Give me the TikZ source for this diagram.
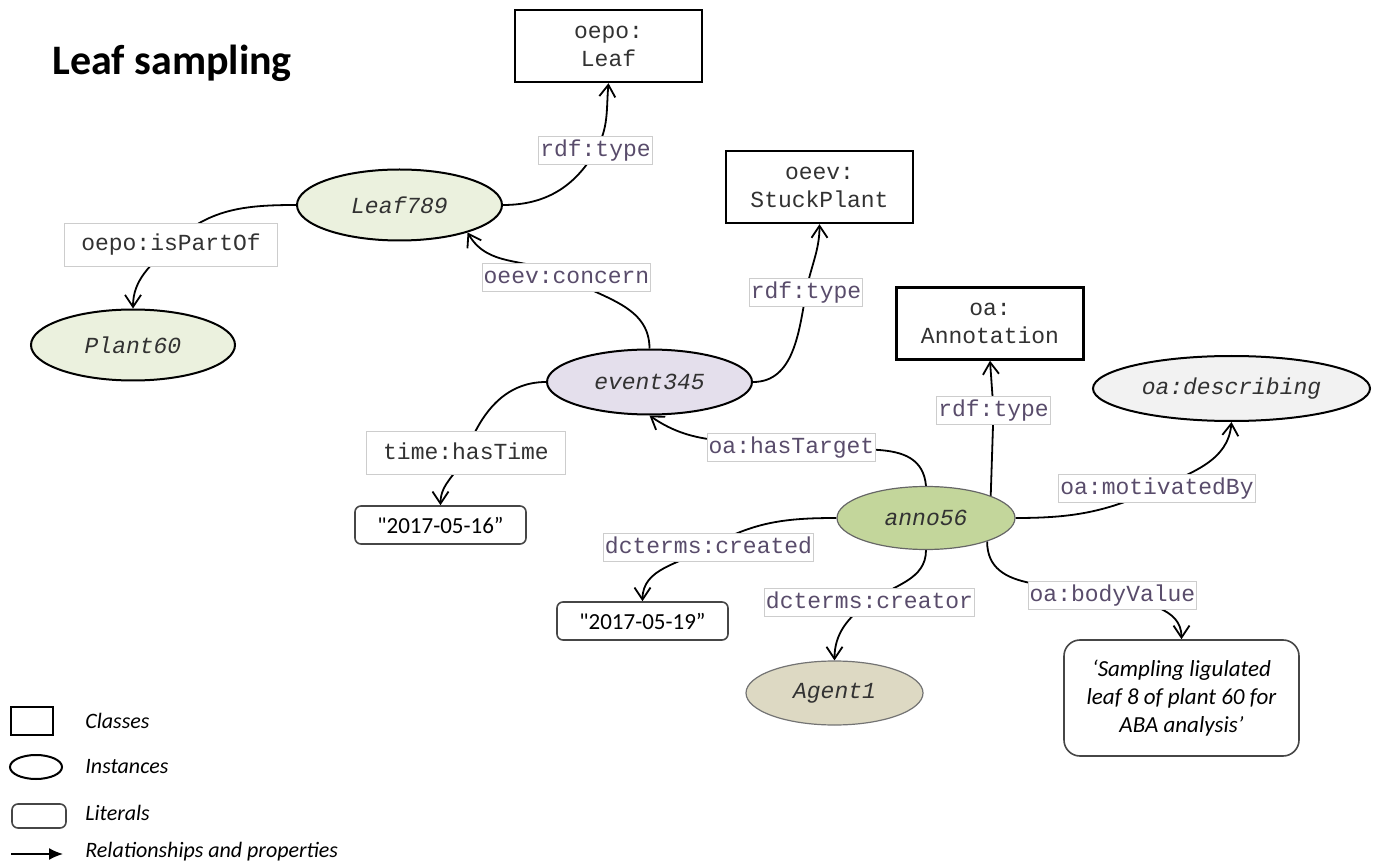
\documentclass[tikz,border=0pt]{standalone}
\usepackage{fontspec}
\setmainfont{Carlito}
\setmonofont{Liberation Mono}
\newfontfamily\litq{Carlito}
\usetikzlibrary{shapes.geometric,arrows.meta,backgrounds}

\definecolor{leafc}{HTML}{EBF1DE}
\definecolor{eventc}{HTML}{E4DFEC}
\definecolor{annoc}{HTML}{C3D69B}
\definecolor{agentc}{HTML}{DDD9C3}
\definecolor{descrc}{HTML}{F2F2F2}
\definecolor{proptext}{RGB}{89,76,107}
\definecolor{propline}{RGB}{205,205,205}
\definecolor{txtdark}{RGB}{50,50,50}
\definecolor{litline}{RGB}{70,70,70}

\newcommand{\monofnt}{\ttfamily\fontsize{11.5}{14}\selectfont}
\newcommand{\monoifnt}{\ttfamily\itshape\fontsize{11.5}{14}\selectfont}
\newcommand{\litfnt}{\litq\fontsize{11.5}{14}\selectfont}
\newcommand{\titlefnt}{\bfseries\fontsize{21}{25}\selectfont}
\newcommand{\legfnt}{\itshape\fontsize{11}{13}\selectfont}

\tikzset{
  cls/.style={draw, line width=1.2pt, fill=white, minimum width=93.5pt, minimum height=36pt,
    inner sep=0pt, align=center, font=\monofnt, text=txtdark},
  inst/.style={ellipse, draw, line width=1pt, inner sep=0pt, font=\monoifnt, text=txtdark},
  lit/.style={draw=litline, line width=0.8pt, rounded corners=3pt, fill=white,
    minimum width=85.5pt, minimum height=19pt, inner sep=0pt, font=\litfnt},
  prop/.style={draw=propline, line width=0.5pt, fill=white, text=proptext, font=\monofnt,
    inner xsep=0.8pt, inner ysep=1.5pt, text height=8.5pt, text depth=2.5pt},
  propd/.style={prop, text=txtdark, inner xsep=8.5pt, inner ysep=5.25pt},
  rel/.style={line width=0.9pt, -{Straight Barb[length=6pt,width=8pt]}},
  legtxt/.style={anchor=base west, inner sep=0pt, font=\legfnt},
}

\begin{document}
\begin{tikzpicture}[x=.5pt,y=.5pt]
\useasboundingbox (0,0) rectangle (1377,-861);
\draw (52,-75) node[anchor=base west, inner sep=0pt, font=\titlefnt] (t) {Leaf sampling};
% classes
\draw (608.5,-46) node[cls] (v1) {oepo:\\Leaf};
\draw (819.5,-187) node[cls] (v4) {oeev:\\StuckPlant};
\draw (990,-323.5) node[cls] (v6) {oa:\\Annotation};
% instances
\draw (399.5,-205) node[inst, fill=leafc, minimum width=102.5pt, minimum height=35.5pt] (v2) {Leaf789};
\draw (133,-345) node[inst, fill=leafc, minimum width=102pt, minimum height=35.5pt] (v3) {Plant60};
\draw (649.5,-382) node[inst, fill=eventc, minimum width=102.5pt, minimum height=32.5pt] (v5) {event345};
\draw (1231.5,-388.5) node[inst, fill=descrc, minimum width=138.5pt, minimum height=32.5pt] (v7) {oa:describing};
\draw (926,-518) node[inst, fill=annoc, draw=black!60, line width=0.6pt, minimum width=89pt, minimum height=31.5pt] (v8) {anno56};
\draw (834.5,-693) node[inst, fill=agentc, draw=black!55, line width=0.6pt, minimum width=88.5pt, minimum height=32pt] (v11) {Agent1};
% literals
\draw (440.5,-525) node[lit] (v9) {"2017-05-16”};
\draw (642.5,-621) node[lit] (v10) {"2017-05-19”};
\draw (1181.5,-698) node[lit, rounded corners=8pt, minimum width=117.5pt, minimum height=58pt, align=center, font=\litfnt\itshape] (v12) {‘Sampling ligulated\\leaf 8 of plant 60 for\\ABA analysis’};
% properties
\draw (171,-245) node[propd] (p1) {oepo:isPartOf};
\draw (595.5,-151) node[prop] (p2) {rdf:type};
\draw (566.5,-277.5) node[prop] (p3) {oeev:concern};
\draw (806,-292.5) node[prop] (p4) {rdf:type};
\draw (466,-453) node[propd] (p5) {time:hasTime};
\draw (791.5,-447.5) node[prop] (p6) {oa:hasTarget};
\draw (993.5,-410.5) node[prop] (p7) {rdf:type};
\draw (1157,-488.5) node[prop] (p8) {oa:motivatedBy};
\draw (708.5,-547.5) node[prop] (p9) {dcterms:created};
\draw (869.5,-602) node[prop] (p10) {dcterms:creator};
\draw (1112.5,-595) node[prop] (p11) {oa:bodyValue};
\begin{scope}[on background layer]
\draw[rel] (v2.west) to[out=180,in=45] (p1.center) to[out=225,in=90] (v3.north);
\draw[rel] (v2.east) to[out=0,in=240] (p2.center) to[out=60,in=-95] (v1.south);
\draw[rel] (v5.north) to[out=90,in=-30] (p3.center) to[out=150,in=-60] (v2.-22);
\draw[rel] (v5.east) to[out=0,in=-100] (p4.center) to[out=80,in=-90] (v4.south);
\draw[rel] (v5.west) to[out=180,in=70] (p5.center) to[out=250,in=90] (v9.north);
\draw[rel] (v8.north) to[out=95,in=-10] (p6.center) to[out=170,in=-35] (v5.south);
\draw[rel] (v6.south |- v8.center) -- (p7) -- (v6.south);
\draw[rel] (v8.east) to[out=0,in=205] (p8.center) to[out=25,in=-95] (v7.south);
\draw[rel] (v8.west) to[out=180,in=30] (p9.center) to[out=210,in=90] (v10.north);
\draw[rel] (v8.south) to[out=-90,in=35] (p10.center) to[out=215,in=90] (v11.north);
\draw[rel] (v8.-21) to[out=-90,in=165] (p11.center) to[out=-15,in=90] (v12.north);
\end{scope}
% legend
\draw (32,-721) node[cls, minimum width=21pt, minimum height=14pt] (k1) {};
\draw (36,-767) node[inst, minimum width=26pt, minimum height=12pt] (k2) {};
\draw (39,-816) node[lit, minimum width=27pt, minimum height=12pt] (k3) {};
\coordinate (k4) at (11,-854);
\coordinate (k5) at (63,-854);
\draw[line width=0.8pt, -{Latex[length=7pt,width=6pt]}] (k4) -- (k5);
\draw (85,-728) node[legtxt] (k1t) {Classes};
\draw (85,-773) node[legtxt] (k2t) {Instances};
\draw (85,-820) node[legtxt] (k3t) {Literals};
\draw (85,-857) node[legtxt] (k4t) {Relationships and properties};
\end{tikzpicture}
\end{document}
